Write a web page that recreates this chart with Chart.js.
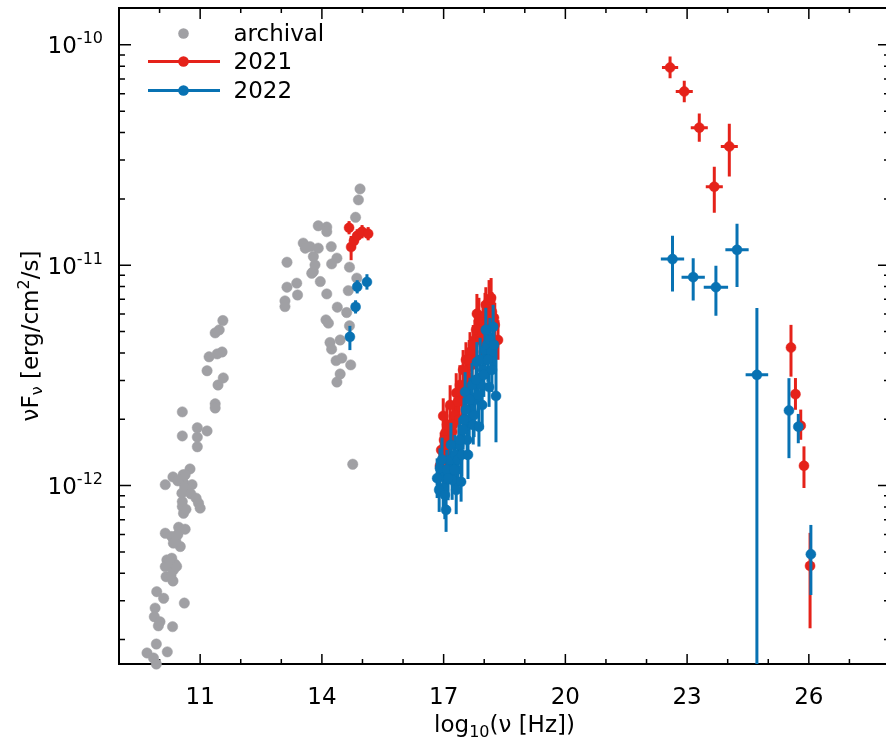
<!DOCTYPE html>
<html>
<head>
<meta charset="utf-8">
<script src="https://cdn.jsdelivr.net/npm/chart.js@4.4.1/dist/chart.umd.min.js"></script>
<style>
  html, body { margin: 0; padding: 0; background: #fff; overflow: hidden; }
  #wrap { width: 886px; height: 739px; overflow: hidden; position: relative; }
  #sed { display: block; position: absolute; left: 0; top: 0; }
</style>
</head>
<body>
<div id="wrap"><canvas id="sed" width="892" height="739"></canvas></div>
<script>
// x = log10(nu [Hz]), y = nuFnu [erg/cm2/s]
const xMajor = [11, 14, 17, 20, 23, 26];
const yDecades = [-12, -11, -10];

// archival (radio + optical)
const archX = [11.56, 11.47, 11.37, 11.54, 11.42, 11.22, 11.17, 11.57, 11.44, 11.37, 11.37, 10.56, 10.93, 11.17, 10.93, 10.93, 10.56,
  10.75, 10.33, 10.58, 10.14, 10.63, 10.59, 10.80, 10.45, 10.62, 10.55, 10.77, 10.90, 10.96, 11.0, 10.56, 10.56, 10.59, 10.65,
  10.14, 10.47, 10.63, 10.30, 10.34, 10.51, 10.40, 10.45, 10.18, 10.30, 10.14, 10.34, 10.38, 10.26, 10.42, 10.16, 10.33, 10.28,
  9.93, 10.10, 10.61, 9.89, 9.87, 10.01, 9.97, 10.32, 9.92, 10.19, 9.69, 9.85, 9.92,
  14.94, 14.90, 14.83, 13.91, 14.12, 14.12, 13.54, 13.59, 13.71, 13.91, 14.23, 13.79, 14.37, 14.24, 13.14, 13.83, 13.79, 14.68,
  14.86, 13.38, 13.14, 13.40, 13.75, 13.96, 14.12, 14.65, 13.09, 13.09, 14.38, 14.61, 14.10, 14.16, 14.68, 14.20, 14.24, 14.45,
  14.35, 14.49, 14.71, 14.45, 14.37, 14.76];
const archY = [5.61e-12, 5.09e-12, 4.93e-12, 4.04e-12, 3.96e-12, 3.84e-12, 3.32e-12, 3.08e-12, 2.86e-12, 2.35e-12, 2.25e-12, 2.16e-12, 1.83e-12, 1.77e-12, 1.66e-12, 1.50e-12, 1.68e-12,
  1.19e-12, 1.095e-12, 1.12e-12, 1.01e-12, 1.12e-12, 1.03e-12, 1.01e-12, 1.05e-12, 9.8e-13, 9.24e-13, 9.17e-13, 8.77e-13, 8.32e-13, 7.90e-13, 8.46e-13, 8.03e-13, 7.49e-13, 7.8e-13,
  6.08e-13, 6.47e-13, 6.34e-13, 5.87e-13, 5.48e-13, 5.29e-13, 5.6e-13, 6.0e-13, 4.60e-13, 4.68e-13, 4.29e-13, 4.14e-13, 4.4e-13, 4.5e-13, 4.3e-13, 3.86e-13, 3.69e-13, 3.9e-13,
  3.30e-13, 3.08e-13, 2.93e-13, 2.78e-13, 2.54e-13, 2.41e-13, 2.31e-13, 2.29e-13, 1.91e-13, 1.76e-13, 1.74e-13, 1.65e-13, 1.55e-13,
  2.22e-11, 1.98e-11, 1.65e-11, 1.51e-11, 1.49e-11, 1.42e-11, 1.26e-11, 1.195e-11, 1.215e-11, 1.195e-11, 1.215e-11, 1.095e-11, 1.077e-11, 1.014e-11, 1.032e-11, 1.004e-11, 9.36e-12, 9.80e-12,
  8.74e-12, 8.29e-12, 7.95e-12, 7.33e-12, 9.20e-12, 8.43e-12, 7.41e-12, 7.67e-12, 6.89e-12, 6.49e-12, 6.45e-12, 6.10e-12, 5.65e-12, 5.46e-12, 5.31e-12, 4.46e-12, 4.16e-12, 4.58e-12,
  3.69e-12, 3.79e-12, 3.53e-12, 3.21e-12, 2.95e-12, 1.25e-12];

// 2021 campaign: optical, X-ray, GeV, TeV (errors in dex)
const x2021 = [14.67, 14.72, 14.79, 14.87, 14.99, 15.14,
  16.91, 16.99, 17.04, 17.06, 17.13, 17.21, 17.28, 17.31, 17.38, 17.45, 17.53, 17.55, 17.60, 17.65, 17.70, 17.77, 17.82, 17.90, 17.97, 17.99, 18.04, 18.12, 18.19, 18.26, 18.34,
  17.08, 17.16, 17.23, 17.35, 17.40, 17.48, 17.55, 17.63, 17.73, 17.80, 17.87, 17.95, 18.02, 18.09, 18.17, 18.24, 16.94, 17.01,
  22.58, 22.93, 23.30, 23.67, 24.04,
  25.56, 25.67, 25.80, 25.88, 26.03];
const y2021 = [1.48e-11, 1.21e-11, 1.29e-11, 1.36e-11, 1.42e-11, 1.39e-11,
  1.23e-12, 2.07e-12, 1.73e-12, 1.45e-12, 1.61e-12, 1.75e-12, 2.09e-12, 2.63e-12, 1.99e-12, 2.45e-12, 2.86e-12, 3.72e-12, 3.11e-12, 4.04e-12, 3.53e-12, 4.58e-12, 6.02e-12, 4.58e-12, 5.53e-12, 4.04e-12, 6.61e-12, 6.96e-12, 6.14e-12, 5.36e-12, 4.58e-12,
  1.89e-12, 2.32e-12, 1.89e-12, 2.40e-12, 2.86e-12, 3.35e-12, 2.58e-12, 3.72e-12, 4.35e-12, 5.09e-12, 5.65e-12, 4.83e-12, 5.95e-12, 5.65e-12, 7.11e-12, 5.77e-12, 1.45e-12, 1.61e-12,
  7.89e-11, 6.14e-11, 4.21e-11, 2.27e-11, 3.46e-11,
  4.23e-12, 2.60e-12, 1.87e-12, 1.23e-12, 4.32e-13];
const xe2021 = [0, 0, 0, 0, 0, 0,
  0, 0, 0, 0, 0, 0, 0, 0, 0, 0, 0, 0, 0, 0, 0, 0, 0, 0, 0, 0, 0, 0, 0, 0, 0,
  0, 0, 0, 0, 0, 0, 0, 0, 0, 0, 0, 0, 0, 0, 0, 0, 0, 0,
  0.20, 0.21, 0.21, 0.21, 0.21,
  0, 0, 0, 0, 0];
const up2021 = [0.03, 0.05, 0.03, 0.03, 0.03, 0.03,
  0.07, 0.08, 0.07, 0.08, 0.07, 0.07, 0.08, 0.09, 0.08, 0.08, 0.08, 0.08, 0.08, 0.09, 0.09, 0.09, 0.09, 0.09, 0.09, 0.08, 0.08, 0.09, 0.09, 0.10, 0.09,
  0.09, 0.09, 0.08, 0.09, 0.09, 0.09, 0.08, 0.09, 0.09, 0.09, 0.10, 0.09, 0.10, 0.09, 0.09, 0.10, 0.08, 0.08,
  0.05, 0.049, 0.064, 0.091, 0.103,
  0.103, 0.073, 0.073, 0.088, 0.15];
const dn2021 = [0.03, 0.06, 0.03, 0.03, 0.03, 0.03,
  0.07, 0.08, 0.07, 0.08, 0.07, 0.08, 0.08, 0.09, 0.08, 0.08, 0.08, 0.08, 0.08, 0.09, 0.09, 0.09, 0.09, 0.09, 0.09, 0.08, 0.08, 0.09, 0.09, 0.10, 0.09,
  0.09, 0.09, 0.08, 0.09, 0.09, 0.09, 0.08, 0.09, 0.09, 0.09, 0.10, 0.09, 0.10, 0.09, 0.09, 0.10, 0.08, 0.08,
  0.049, 0.049, 0.064, 0.118, 0.136,
  0.132, 0.071, 0.064, 0.101, 0.283];

// 2022 campaign
const x2022 = [14.87, 15.11, 14.83, 14.69,
  16.84, 16.91, 16.99, 17.06, 17.08, 17.16, 17.21, 17.28, 17.33, 17.38, 17.43, 17.48, 17.53, 17.58, 17.63, 17.68, 17.73, 17.77, 17.82, 17.87, 17.92, 17.97, 18.02, 18.07, 18.12, 18.17, 18.22, 18.29,
  16.89, 16.96, 17.03, 17.11, 17.18, 17.26, 17.31, 17.35, 17.40, 17.45, 17.50, 17.55, 17.60, 17.65, 17.70, 17.75, 17.80, 17.85, 17.90, 17.95, 17.99, 18.04, 18.09, 18.14, 18.19, 18.24,
  22.64, 23.15, 23.71, 24.23, 24.72,
  25.51, 25.74, 26.05];
const y2022 = [7.98e-12, 8.40e-12, 6.47e-12, 4.73e-12,
  1.08e-12, 1.20e-12, 9.76e-13, 7.76e-13, 1.18e-12, 1.31e-12, 1.06e-12, 1.38e-12, 1.18e-12, 1.53e-12, 1.04e-12, 1.79e-12, 2.66e-12, 1.61e-12, 1.99e-12, 2.21e-12, 1.89e-12, 2.45e-12, 3.64e-12, 1.85e-12, 2.86e-12, 3.35e-12, 4.13e-12, 4.35e-12, 2.80e-12, 4.04e-12, 5.25e-12, 2.55e-12,
  9.56e-13, 1.31e-12, 9.07e-13, 1.08e-12, 1.53e-12, 1.18e-12, 9.56e-13, 1.31e-12, 1.61e-12, 1.38e-12, 1.99e-12, 2.21e-12, 1.38e-12, 2.45e-12, 2.86e-12, 2.09e-12, 3.02e-12, 2.58e-12, 3.72e-12, 2.32e-12, 3.18e-12, 5.09e-12, 3.72e-12, 4.58e-12, 3.35e-12, 4.35e-12,
  1.066e-11, 8.83e-12, 7.95e-12, 1.174e-11, 3.18e-12,
  2.19e-12, 1.85e-12, 4.88e-13];
const xe2022 = [0, 0, 0, 0,
  0, 0, 0, 0, 0, 0, 0, 0, 0, 0, 0, 0, 0, 0, 0, 0, 0, 0, 0, 0, 0, 0, 0, 0, 0, 0, 0, 0,
  0, 0, 0, 0, 0, 0, 0, 0, 0, 0, 0, 0, 0, 0, 0, 0, 0, 0, 0, 0, 0, 0, 0, 0, 0, 0,
  0.287, 0.287, 0.30, 0.287, 0.278,
  0, 0, 0];
const up2022 = [0.03, 0.035, 0.03, 0.05,
  0.09, 0.09, 0.09, 0.10, 0.09, 0.09, 0.09, 0.09, 0.09, 0.09, 0.09, 0.09, 0.09, 0.09, 0.09, 0.09, 0.09, 0.09, 0.09, 0.09, 0.09, 0.09, 0.09, 0.09, 0.09, 0.09, 0.10, 0.25,
  0.10, 0.10, 0.11, 0.10, 0.10, 0.10, 0.11, 0.10, 0.10, 0.10, 0.10, 0.10, 0.11, 0.10, 0.10, 0.10, 0.10, 0.10, 0.10, 0.11, 0.10, 0.10, 0.10, 0.10, 0.10, 0.10,
  0.106, 0.086, 0.097, 0.118, 0.303,
  0.147, 0.058, 0.133];
const dn2022 = [0.03, 0.035, 0.03, 0.06,
  0.09, 0.09, 0.09, 0.10, 0.09, 0.09, 0.09, 0.09, 0.09, 0.09, 0.09, 0.09, 0.09, 0.09, 0.09, 0.09, 0.09, 0.09, 0.09, 0.09, 0.09, 0.09, 0.09, 0.09, 0.09, 0.09, 0.10, 0.21,
  0.10, 0.10, 0.11, 0.10, 0.10, 0.10, 0.11, 0.10, 0.10, 0.10, 0.10, 0.10, 0.11, 0.10, 0.10, 0.10, 0.10, 0.10, 0.10, 0.11, 0.10, 0.10, 0.10, 0.10, 0.10, 0.10,
  0.147, 0.106, 0.130, 0.169, 3,
  0.216, 0.075, 0.185];

const GREY = '#a0a0a4', RED = '#e5221a', BLUE = '#0872b3';
const FONT = 'DejaVu Sans';

function pts(xs, ys) {
  return xs.map((x, i) => ({ x: x, y: ys[i] }));
}

// error bars, axis frame, tick marks, titles and legend
const decor = {
  id: 'decor',
  beforeDatasetsDraw(chart) {
    const ctx = chart.ctx, a = chart.chartArea;
    const xs = chart.scales.x, ys = chart.scales.y;
    ctx.save();
    ctx.strokeStyle = '#000';
    ctx.lineWidth = 1.5;
    ctx.beginPath();
    for (let v = 10; v <= 27; v++) {
      const px = xs.getPixelForValue(v);
      const big = xMajor.includes(v);
      ctx.moveTo(px, a.bottom); ctx.lineTo(px, a.bottom - (big ? 10 : 5));
      ctx.moveTo(px, a.top); ctx.lineTo(px, a.top + (big ? 11 : 5));
    }
    for (let e = -13; e <= -10; e++) {
      for (let m = 1; m <= 9; m++) {
        const v = m * Math.pow(10, e);
        if (v < ys.min || v > ys.max) continue;
        const py = ys.getPixelForValue(v);
        const len = m === 1 ? 12 : 6;
        ctx.moveTo(a.left, py); ctx.lineTo(a.left + len, py);
        ctx.moveTo(a.right, py); ctx.lineTo(a.right - len, py);
      }
    }
    ctx.stroke();
    ctx.lineWidth = 2;
    ctx.strokeRect(a.left, a.top, a.right - a.left, a.bottom - a.top);
    ctx.restore();
  },
  beforeDatasetDraw(chart, args) {
    const ds = chart.data.datasets[args.index];
    if (!ds.errUp) return;
    const ctx = chart.ctx, a = chart.chartArea;
    const xs = chart.scales.x, ys = chart.scales.y;
    ctx.save();
    ctx.beginPath();
    ctx.rect(a.left, a.top, a.right - a.left, a.bottom - a.top);
    ctx.clip();
    ctx.strokeStyle = ds.backgroundColor;
    ctx.lineWidth = 3;
    ds.data.forEach((p, i) => {
      const px = xs.getPixelForValue(p.x), py = ys.getPixelForValue(p.y);
      ctx.beginPath();
      ctx.moveTo(px, ys.getPixelForValue(p.y * Math.pow(10, ds.errUp[i])));
      ctx.lineTo(px, ys.getPixelForValue(p.y / Math.pow(10, ds.errDn[i])));
      if (ds.errX[i] > 0) {
        ctx.moveTo(xs.getPixelForValue(p.x - ds.errX[i]), py);
        ctx.lineTo(xs.getPixelForValue(p.x + ds.errX[i]), py);
      }
      ctx.stroke();
    });
    ctx.restore();
  },
  afterDraw(chart) {
    const ctx = chart.ctx, a = chart.chartArea;
    const ys = chart.scales.y;
    ctx.save();
    ctx.fillStyle = '#000';
    ctx.textBaseline = 'alphabetic';

    // y tick labels 10^n
    yDecades.forEach(e => {
      const py = ys.getPixelForValue(Math.pow(10, e));
      ctx.font = '23px "' + FONT + '"';
      const w1 = ctx.measureText('10').width;
      ctx.font = '16px "' + FONT + '"';
      const sup = '-' + Math.abs(e);
      const w2 = ctx.measureText(sup).width;
      const x0 = 103 - w1 - w2;
      ctx.font = '23px "' + FONT + '"';
      ctx.textAlign = 'left';
      ctx.fillText('10', x0, py + 8.4);
      ctx.font = '16px "' + FONT + '"';
      ctx.fillText(sup, x0 + w1, py - 1.5);
    });

    // rich text helper: parts = [text, size, dy]
    function rich(parts, cx, cy) {
      let w = 0;
      parts.forEach(p => { ctx.font = p[1] + 'px "' + FONT + '"'; w += ctx.measureText(p[0]).width; });
      let x = cx - w / 2;
      ctx.textAlign = 'left';
      parts.forEach(p => {
        ctx.font = p[1] + 'px "' + FONT + '"';
        ctx.fillText(p[0], x, cy + p[2]);
        x += ctx.measureText(p[0]).width;
      });
    }

    // x title
    rich([['log', 23, 0], ['10', 16, 5], ['(\u03bd [Hz])', 23, 0]], (a.left + a.right) / 2, 732);

    // y title
    ctx.save();
    ctx.translate(38, (a.top + a.bottom) / 2);
    ctx.rotate(-Math.PI / 2);
    rich([['\u03bdF', 23, 0], ['\u03bd', 16, 4], [' [erg/cm', 23, 0], ['2', 16, -9], ['/s]', 23, 0]], 0, 0);
    ctx.restore();

    // legend
    const rows = [41, 69, 98];
    chart.data.datasets.forEach((ds, i) => {
      const cy = rows[i] - 7.5;
      ctx.fillStyle = ds.backgroundColor;
      ctx.strokeStyle = ds.backgroundColor;
      if (ds.legendLine) {
        ctx.lineWidth = 3;
        ctx.beginPath();
        ctx.moveTo(148, cy); ctx.lineTo(220, cy);
        ctx.stroke();
      }
      ctx.beginPath();
      ctx.arc(183.5, cy, 5.3, 0, Math.PI * 2);
      ctx.fill();
      ctx.fillStyle = '#000';
      ctx.font = '23px "' + FONT + '"';
      ctx.textAlign = 'left';
      ctx.fillText(ds.label, 233.5, rows[i]);
    });
    ctx.restore();
  }
};

new Chart(document.getElementById('sed'), {
  type: 'scatter',
  data: {
    datasets: [
      {
        label: 'archival', data: pts(archX, archY), order: 3,
        backgroundColor: GREY, borderColor: GREY, borderWidth: 0.5, pointRadius: 5.2
      },
      {
        label: '2021', data: pts(x2021, y2021), order: 2, legendLine: true,
        errX: xe2021, errUp: up2021, errDn: dn2021,
        backgroundColor: RED, borderColor: RED, borderWidth: 0.5, pointRadius: 5
      },
      {
        label: '2022', data: pts(x2022, y2022), order: 1, legendLine: true,
        errX: xe2022, errUp: up2022, errDn: dn2022,
        backgroundColor: BLUE, borderColor: BLUE, borderWidth: 0.5, pointRadius: 5
      }
    ]
  },
  options: {
    responsive: false,
    animation: false,
    events: [],
    clip: false,
    // the plot frame runs a few px past the right edge of the picture
    layout: { autoPadding: false, padding: { left: 0, top: 8, right: 2, bottom: 0 } },
    plugins: { legend: { display: false }, tooltip: { enabled: false } },
    scales: {
      x: {
        type: 'linear', min: 9, max: 28,
        afterBuildTicks: axis => { axis.ticks = xMajor.map(v => ({ value: v })); },
        afterFit: s => { s.height = 75; },
        grid: { display: false, drawTicks: false },
        border: { display: false },
        ticks: { color: '#000', font: { family: FONT, size: 23 }, padding: 20, maxRotation: 0, autoSkip: false }
      },
      y: {
        type: 'logarithmic', min: 1.55e-13, max: 1.47e-10,
        afterBuildTicks: axis => { axis.ticks = yDecades.map(e => ({ value: Math.pow(10, e) })); },
        afterFit: s => { s.width = 119; },
        grid: { display: false, drawTicks: false },
        border: { display: false },
        ticks: { display: false }
      }
    }
  },
  plugins: [decor]
});
</script>
</body>
</html>
